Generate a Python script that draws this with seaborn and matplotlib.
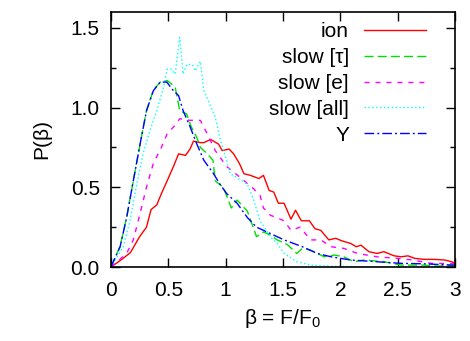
import matplotlib
matplotlib.use("Agg")
import matplotlib.pyplot as plt
import seaborn as sns
import pandas as pd
from matplotlib.ticker import MultipleLocator, FormatStrFormatter

# ---- data ----
ion_x = [0, 0.08, 0.17, 0.25, 0.31, 0.35, 0.40, 0.44, 0.49, 0.545, 0.59, 0.65, 0.69, 0.72, 0.78,
         0.81, 0.87, 0.94, 0.97, 1.03, 1.07, 1.12, 1.16, 1.216, 1.29, 1.33, 1.38, 1.42, 1.46, 1.51,
         1.57, 1.61, 1.66, 1.73, 1.78, 1.83, 1.90, 1.96, 2.01, 2.09, 2.14, 2.18, 2.25, 2.32, 2.38,
         2.47, 2.53, 2.59, 2.65, 2.73, 2.82, 2.91, 2.97, 3.0]
ion_y = [0, 0.04, 0.09, 0.19, 0.25, 0.36, 0.39, 0.46, 0.54, 0.63, 0.71, 0.70, 0.74, 0.79, 0.78,
         0.78, 0.80, 0.77, 0.73, 0.74, 0.71, 0.65, 0.585, 0.575, 0.555, 0.575, 0.48, 0.47, 0.40, 0.40,
         0.30, 0.356, 0.29, 0.29, 0.24, 0.23, 0.17, 0.18, 0.165, 0.148, 0.127, 0.137, 0.096, 0.085, 0.096,
         0.07, 0.064, 0.07, 0.054, 0.048, 0.048, 0.044, 0.033, 0.025]

tau_x = [0, 0.08, 0.137, 0.195, 0.254, 0.31, 0.37, 0.43, 0.49, 0.56, 0.60, 0.66, 0.70, 0.75, 0.78,
         0.84, 0.89, 0.91, 0.98, 1.05, 1.10, 1.19, 1.27, 1.33, 1.39, 1.45, 1.54, 1.62, 1.67, 1.74,
         1.86, 1.95, 2.03, 2.12, 2.21, 2.38, 2.53, 2.73, 2.85, 2.97, 3.0]
tau_y = [0, 0.13, 0.31, 0.54, 0.77, 0.98, 1.11, 1.16, 1.17, 1.13, 0.98, 0.96, 0.88, 0.81, 0.75,
         0.71, 0.67, 0.54, 0.50, 0.37, 0.42, 0.35, 0.19, 0.22, 0.20, 0.17, 0.14, 0.085, 0.117, 0.106,
         0.064, 0.075, 0.064, 0.033, 0.044, 0.033, 0.012, 0.012, 0.005, 0.012, 0.01]

e_x = [0, 0.137, 0.195, 0.254, 0.31, 0.37, 0.44, 0.49, 0.56, 0.60, 0.69, 0.78, 0.84, 0.91, 1.01,
       1.13, 1.245, 1.30, 1.33, 1.39, 1.51, 1.57, 1.65, 1.74, 1.83, 1.92, 2.03, 2.15, 2.32, 2.50,
       2.62, 2.79, 3.0]
e_y = [0, 0.085, 0.17, 0.335, 0.50, 0.65, 0.75, 0.835, 0.89, 0.93, 0.92, 0.92, 0.835, 0.73, 0.63,
       0.56, 0.49, 0.45, 0.37, 0.325, 0.29, 0.23, 0.25, 0.17, 0.17, 0.127, 0.117, 0.085, 0.064, 0.054,
       0.045, 0.023, 0.02]

all_x = [0, 0.108, 0.166, 0.225, 0.28, 0.34, 0.40, 0.46, 0.49, 0.53, 0.56, 0.60, 0.63, 0.66, 0.71,
         0.735, 0.78, 0.81, 0.85, 0.91, 0.95, 1.0, 1.04, 1.10, 1.19, 1.245, 1.30, 1.39, 1.45, 1.51,
         1.62, 1.74, 1.92, 2.2, 2.6, 3.0]
all_y = [0, 0.127, 0.29, 0.52, 0.71, 0.856, 0.98, 1.13, 1.24, 1.24, 1.21, 1.44, 1.21, 1.27, 1.27,
         1.23, 1.29, 1.106, 1.04, 0.94, 0.81, 0.69, 0.585, 0.56, 0.52, 0.42, 0.29, 0.19, 0.148, 0.085,
         0.033, 0.012, 0.005, 0.002, 0.0, 0.0]

y_x = [0, 0.08, 0.137, 0.195, 0.254, 0.31, 0.37, 0.43, 0.487, 0.545, 0.59, 0.63, 0.69, 0.75, 0.81,
       0.895, 0.95, 1.01, 1.10, 1.19, 1.27, 1.39, 1.51, 1.67, 1.80, 1.92, 2.09, 2.32, 2.53, 2.73, 2.97, 3.0]
y_y = [0, 0.127, 0.31, 0.54, 0.77, 0.98, 1.106, 1.16, 1.16, 1.106, 1.075, 0.98, 0.88, 0.77, 0.67,
       0.585, 0.52, 0.46, 0.40, 0.31, 0.25, 0.21, 0.17, 0.127, 0.085, 0.064, 0.044, 0.033, 0.023, 0.02, 0.012, 0.012]

labels = ["ion", "slow [τ]", "slow [e]", "slow [all]", "Y"]
colors = ["#ff0000", "#00e000", "#ff00ff", "#00ffff", "#0000ff"]

plt.rcParams["font.family"] = ["Liberation Sans", "DejaVu Sans"]
plt.rcParams["mathtext.fontset"] = "custom"
plt.rcParams["mathtext.rm"] = "Liberation Sans"
plt.rcParams["mathtext.it"] = "Liberation Sans:italic"

FS = 15

fig = plt.figure(figsize=(4.7, 3.41), dpi=100)
ax = fig.add_axes([0.236, 0.217, 0.732, 0.748])

series = [(ion_x, ion_y), (tau_x, tau_y), (e_x, e_y), (all_x, all_y), (y_x, y_y)]
dash_styles = [None, (6.5, 3), (3.6, 4.3), (1, 1.8), (7, 2.2, 1.4, 2.2)]
for (xs, ys), lab, col, ds in zip(series, labels, colors, dash_styles):
    df = pd.DataFrame({"x": xs, "y": ys})
    sns.lineplot(data=df, x="x", y="y", ax=ax, color=col, lw=1.0, label=lab,
                 sort=False, estimator=None)
    if ds is not None:
        ax.lines[-1].set_dashes(ds)

ax.set_xlim(0, 3)
ax.set_ylim(0, 1.6)
ax.xaxis.set_major_locator(MultipleLocator(0.5))
ax.xaxis.set_minor_locator(MultipleLocator(0.25))
ax.yaxis.set_major_locator(MultipleLocator(0.5))
ax.yaxis.set_minor_locator(MultipleLocator(0.25))
ax.xaxis.set_major_formatter(lambda v, p: f"{v:g}")
ax.yaxis.set_major_formatter(FormatStrFormatter("%.1f"))
ax.tick_params(which="major", direction="in", length=6.5, width=1, top=True, right=True,
               labelsize=FS)
ax.tick_params(which="minor", direction="in", length=3.5, width=1, top=True, right=True)
ax.tick_params(axis="x", which="minor", length=0)
ax.tick_params(axis="x", pad=10)
ax.tick_params(axis="y", pad=8)
for s in ax.spines.values():
    s.set_linewidth(1.2)
ax.set_xlabel(r"β = F/F$_0$", fontsize=FS, labelpad=5)
ax.set_ylabel("P(β)", fontsize=FS, labelpad=14)

handles, labs = ax.get_legend_handles_labels()
leg = ax.legend(handles, labs, loc="upper right", bbox_to_anchor=(0.916, 0.96),
                frameon=False, markerfirst=False, fontsize=FS, borderpad=0,
                borderaxespad=0, handlelength=3.0, labelspacing=0.33, handletextpad=0.7)

fig.savefig("out.png", dpi=100)
